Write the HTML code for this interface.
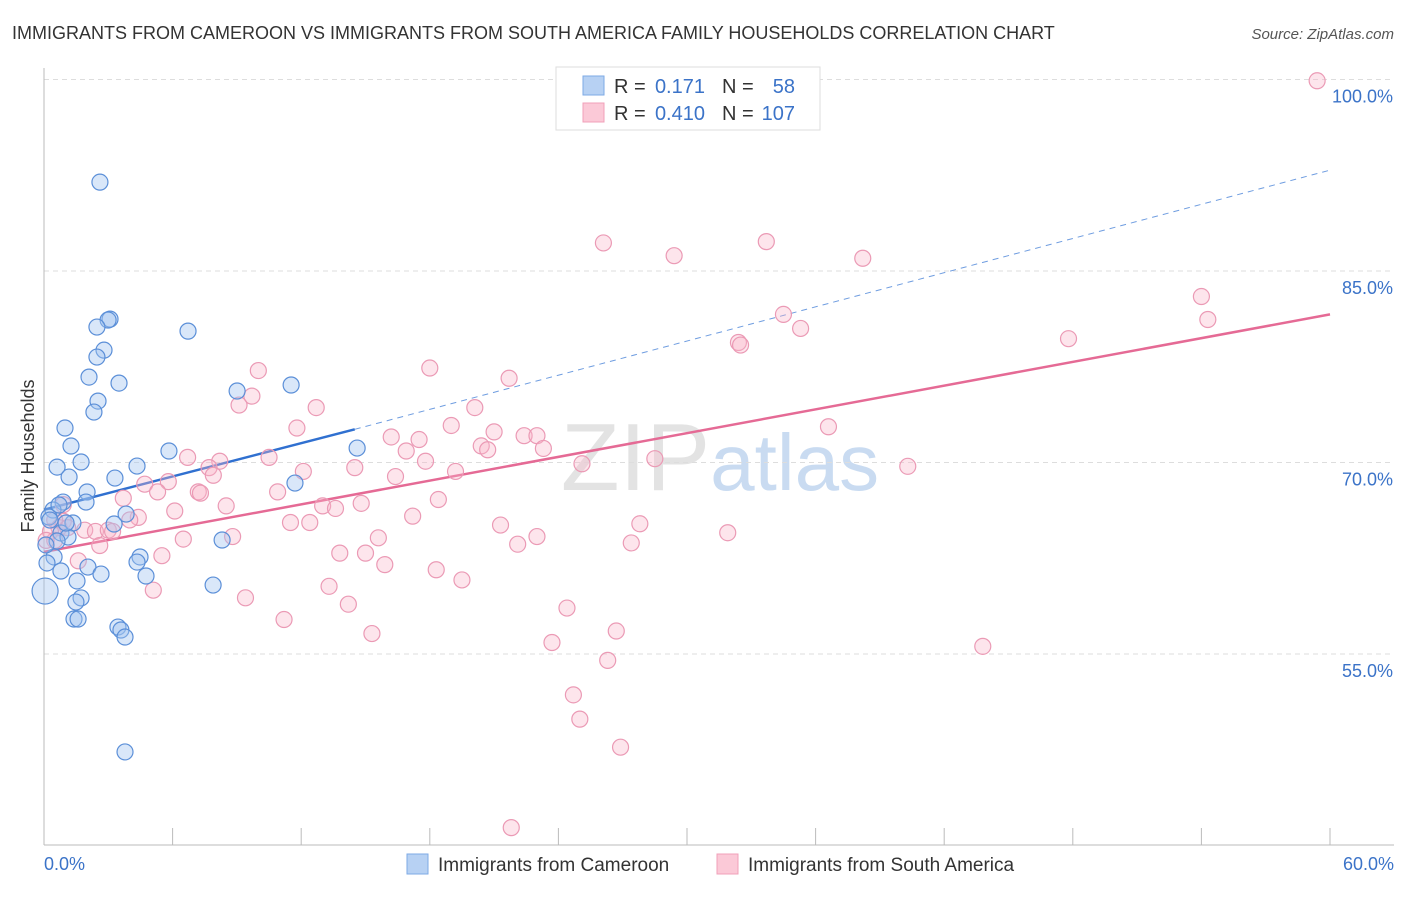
<!DOCTYPE html>
<html><head><meta charset="utf-8"><style>
body{margin:0;background:#fff;font-family:"Liberation Sans",sans-serif;}
svg text{font-family:"Liberation Sans",sans-serif;}
</style></head><body>
<svg id="chart" width="1406" height="892" xmlns="http://www.w3.org/2000/svg">
<text x="12" y="39" font-size="18" fill="#333">IMMIGRANTS FROM CAMEROON VS IMMIGRANTS FROM SOUTH AMERICA FAMILY HOUSEHOLDS CORRELATION CHART</text>
<text x="1394" y="39" font-size="15" fill="#555" text-anchor="end" font-style="italic">Source: ZipAtlas.com</text>
<text x="720" y="490" font-size="96" fill="#ddd" text-anchor="middle" font-family="Liberation Serif" opacity="0.8">ZIP<tspan fill="#bcd3ee" font-family="Liberation Sans" font-size="80">atlas</tspan></text>
<g id="grid"></g>
<g id="axes"></g>
<g id="trends"></g>
<g id="pts"></g>
<text transform="translate(34,456) rotate(-90)" font-size="18" fill="#333" text-anchor="middle">Family Households</text>
<g>
<rect x="556" y="67" width="264" height="63" fill="#fff" stroke="#ddd"/>
<rect x="583" y="76" width="21" height="19" fill="#b7d1f3" stroke="#7eaae6"/>
<rect x="583" y="103" width="21" height="19" fill="#fbc9d7" stroke="#f0a0b9"/>
<text x="614" y="93" font-size="20" fill="#333">R =</text><text x="705" y="93" font-size="20" fill="#3b73c8" text-anchor="end">0.171</text>
<text x="722" y="93" font-size="20" fill="#333">N =</text><text x="795" y="93" font-size="20" fill="#3b73c8" text-anchor="end">58</text>
<text x="614" y="120" font-size="20" fill="#333">R =</text><text x="705" y="120" font-size="20" fill="#3b73c8" text-anchor="end">0.410</text>
<text x="722" y="120" font-size="20" fill="#333">N =</text><text x="795" y="120" font-size="20" fill="#3b73c8" text-anchor="end">107</text>
</g>
<g>
<rect x="407" y="854" width="21" height="20" fill="#b7d1f3" stroke="#7eaae6"/>
<text x="438" y="871" font-size="19" fill="#333">Immigrants from Cameroon</text>
<rect x="717" y="854" width="21" height="20" fill="#fbc9d7" stroke="#f0a0b9"/>
<text x="748" y="871" font-size="19" fill="#333">Immigrants from South America</text>
</g>
</svg>
<script>
const yTicks=[55,70,85,100];
const yTickLabels=["55.0%","70.0%","85.0%","100.0%"];
const xTickLabels=["0.0%","60.0%"];
const blueX=[2.61,3.08,2.99,2.47,6.72,2.80,2.47,2.10,3.50,9.01,11.53,2.52,2.33,0.98,1.26,14.61,5.83,0.61,1.73,4.34,1.17,3.31,11.71,0.89,2.01,1.96,1.35,0.42,0.23,3.83,3.27,0.79,1.12,8.31,0.61,0.47,4.48,4.34,0.14,0.79,2.05,2.66,4.76,1.54,7.89,1.73,1.49,0.05,1.40,1.59,3.45,3.59,3.78,3.78,0.09,0.28,0.70,1.03];
const blueY=[91.96,81.23,81.16,80.61,80.29,78.80,78.26,76.69,76.22,75.60,76.07,74.81,73.95,72.70,71.29,71.13,70.90,69.64,70.04,69.72,68.86,68.78,68.39,66.90,67.69,66.90,65.26,66.28,65.73,65.96,65.18,64.48,64.16,63.93,63.85,62.60,62.60,62.20,62.13,61.50,61.81,61.26,61.11,60.72,60.40,59.39,59.07,59.93,57.74,57.74,57.11,56.88,56.33,47.33,63.54,65.49,66.67,65.26];
const pinkX=[59.4,27.3,29.9,26.1,29.4,33.7,38.2,54.0,54.3,34.5,35.3,47.8,32.4,32.5,10.0,18.0,21.7,9.1,9.7,12.7,20.1,16.2,17.5,19.0,21.0,22.4,23.0,20.4,20.7,23.3,16.9,36.6,11.8,6.7,8.2,10.5,14.5,17.8,19.2,28.5,25.1,40.3,7.7,7.9,12.1,4.7,5.8,5.3,7.2,7.3,10.9,3.7,8.5,16.4,18.4,14.8,13.0,13.6,6.1,4.4,4.0,17.2,11.5,12.4,21.3,27.8,0.9,0.7,1.1,1.9,2.4,3.0,3.2,0.3,0.5,8.8,6.5,15.6,23.0,31.9,22.1,27.4,2.6,5.5,13.8,15.0,15.9,1.6,18.3,19.5,13.3,5.1,9.4,14.2,24.4,11.2,15.3,26.7,23.7,43.8,26.3,24.7,25.0,26.9,21.8,0.5,0.9,0.1];
const pinkY=[99.9,100.3,97.1,87.2,86.2,87.3,86.0,83.0,81.2,81.6,80.5,79.7,79.4,79.2,77.2,77.4,76.6,74.5,75.2,74.3,74.3,72.0,71.8,72.9,72.4,72.1,72.1,71.3,71.0,71.1,70.9,72.8,72.7,70.4,70.1,70.4,69.6,70.1,69.3,70.3,69.9,69.7,69.6,69.0,69.3,68.3,68.5,67.7,67.7,67.6,67.7,67.2,66.6,68.9,67.1,66.8,66.6,66.4,66.2,65.7,65.5,65.8,65.3,65.3,65.1,65.2,65.4,64.9,64.9,64.7,64.6,64.7,64.6,64.6,63.9,64.2,64.0,64.1,64.2,64.5,63.6,63.7,63.5,62.7,62.9,62.9,62.0,62.3,61.6,60.8,60.3,60.0,59.4,58.9,58.6,57.7,56.6,56.8,55.9,55.6,54.5,51.8,49.9,47.7,41.4,65.5,66.7,63.9];
const blueTrend=[[0,66.3],[14.5,72.6],[60,92.9]];
const pinkTrend=[[0,63.0],[60,81.6]];
const NS="http://www.w3.org/2000/svg";
const sx=v=>44+v*(1286/60);
const sy=v=>654-(v-55)*(191.5/15);
function mk(tag,attrs,parent){const e=document.createElementNS(NS,tag);for(const k in attrs)e.setAttribute(k,attrs[k]);document.getElementById(parent).appendChild(e);return e;}
yTicks.forEach((t,i)=>{
 const l=mk('line',{x1:44,x2:1394,y1:sy(t),y2:sy(t),stroke:'#ddd','stroke-dasharray':'5,4'},'grid');
 
 
 const tx=mk('text',{x:1393,y:sy(t)+23,'font-size':18,fill:'#3b73c8','text-anchor':'end'},'grid');
 tx.textContent=yTickLabels[i];
 
 
});
const ax=mk('line',{x1:44,x2:44,y1:68,y2:845,stroke:'#bbb'},'axes');


const bx=mk('line',{x1:44,x2:1394,y1:845,y2:845,stroke:'#bbb'},'axes');


for(let i=0;i<=10;i++){const t=mk('line',{x1:sx(i*6),x2:sx(i*6),y1:828,y2:845,stroke:'#bbb'},'axes');
 
 }
[[0,'start',44],[1,'end',1394]].forEach(([i,a,x])=>{const t=mk('text',{x:x,y:870,'font-size':18,fill:'#3b73c8','text-anchor':a},'axes');t.textContent=xTickLabels[i];
 
 });
const b1=mk('line',{x1:sx(blueTrend[0][0]),y1:sy(blueTrend[0][1]),x2:sx(blueTrend[1][0]),y2:sy(blueTrend[1][1]),stroke:'#3070d0','stroke-width':2.5},'trends');


const b2=mk('line',{x1:sx(blueTrend[1][0]),y1:sy(blueTrend[1][1]),x2:sx(blueTrend[2][0]),y2:sy(blueTrend[2][1]),stroke:'#6f9de0','stroke-width':1,'stroke-dasharray':'6,5'},'trends');


const p1=mk('line',{x1:sx(pinkTrend[0][0]),y1:sy(pinkTrend[0][1]),x2:sx(pinkTrend[1][0]),y2:sy(pinkTrend[1][1]),stroke:'#e56a95','stroke-width':2.5},'trends');


pinkX.forEach((x,i)=>{const c=mk('circle',{cx:sx(x),cy:sy(pinkY[i]),r:8,fill:'rgba(248,180,200,0.35)',stroke:'#eb9ab5','stroke-width':1.2},'pts');
 
 });
blueX.forEach((x,i)=>{const c=mk('circle',{cx:sx(x),cy:sy(blueY[i]),r:(i==47?13:8),fill:'rgba(160,195,240,0.4)',stroke:'#5b8fd8','stroke-width':1.2},'pts');
 
 });
</script>
</body></html>
